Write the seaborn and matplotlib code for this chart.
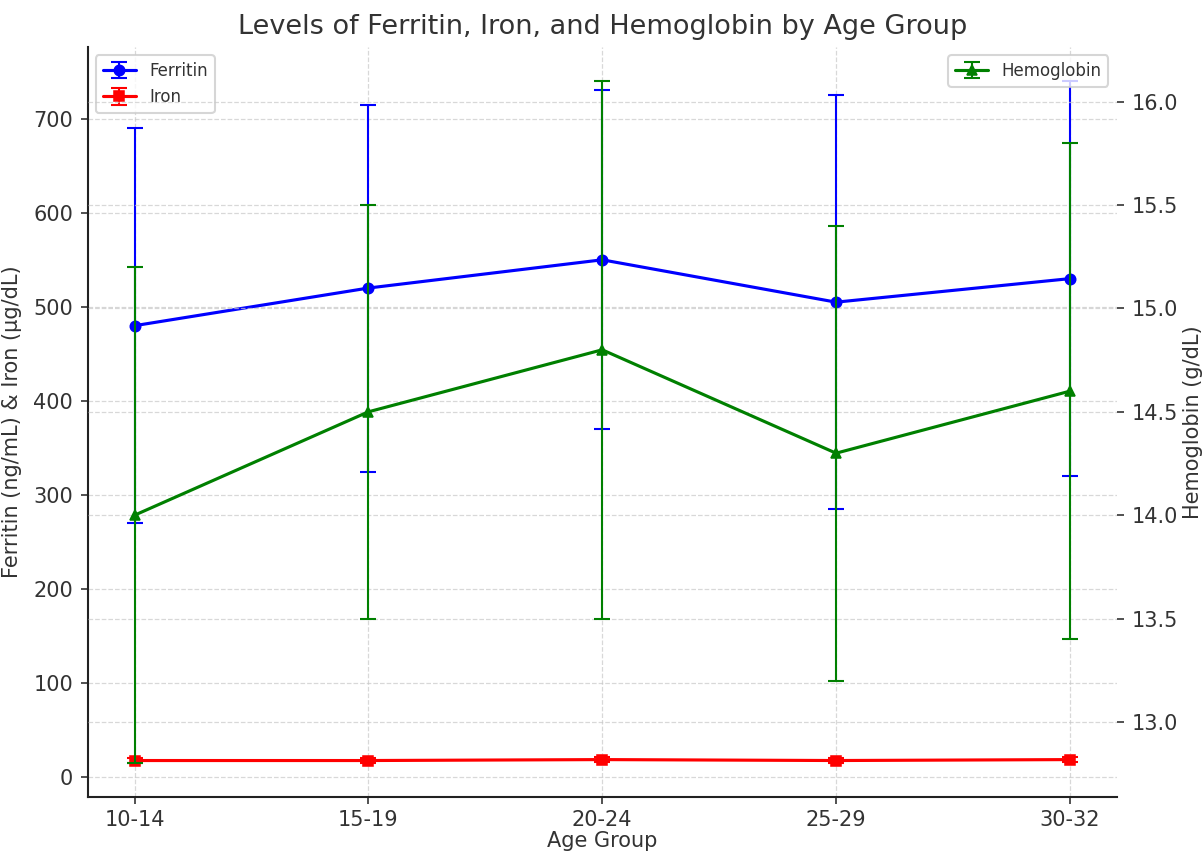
import matplotlib
matplotlib.use("Agg")
import matplotlib.pyplot as plt
import seaborn as sns
import pandas as pd

# values
age_groups = ["10-14", "15-19", "20-24", "25-29", "30-32"]
ferritin = [480, 520, 550, 505, 530]
ferritin_err = [210, 195, 180, 220, 210]
iron = [18, 18, 19, 18, 19]
iron_err = [3, 3, 3, 3, 3]
hemoglobin = [14.0, 14.5, 14.8, 14.3, 14.6]
hemoglobin_err = [1.2, 1.0, 1.3, 1.1, 1.2]

df = pd.DataFrame({"Age Group": age_groups, "Ferritin": ferritin, "Iron": iron,
                   "Hemoglobin": hemoglobin})

sns.set_style("white")
plt.rcParams["font.family"] = ["DejaVu Sans"]
plt.rcParams["text.color"] = "#333333"
plt.rcParams["axes.labelcolor"] = "#333333"
plt.rcParams["xtick.color"] = "#333333"
plt.rcParams["ytick.color"] = "#333333"

fig, ax1 = plt.subplots(figsize=(1202 / 150, 852 / 150), dpi=150)
fig.subplots_adjust(left=0.073, right=0.929, top=0.945, bottom=0.064)

err_kw = dict(fmt="none", elinewidth=1.0, capsize=4, capthick=1.0)

e_fer = ax1.errorbar(df["Age Group"], df["Ferritin"], yerr=ferritin_err, ecolor="blue", **err_kw)
sns.lineplot(data=df, x="Age Group", y="Ferritin", color="blue", marker="o",
             markersize=5, markeredgecolor="blue", linewidth=1.5, ax=ax1, legend=False)
l_fer = ax1.lines[-1]

e_iron = ax1.errorbar(df["Age Group"], df["Iron"], yerr=iron_err, ecolor="red", **err_kw)
sns.lineplot(data=df, x="Age Group", y="Iron", color="red", marker="s",
             markersize=5, markeredgecolor="red", linewidth=1.5, ax=ax1, legend=False)
l_iron = ax1.lines[-1]

ax2 = ax1.twinx()
e_hb = ax2.errorbar(df["Age Group"], df["Hemoglobin"], yerr=hemoglobin_err, ecolor="green", **err_kw)
sns.lineplot(data=df, x="Age Group", y="Hemoglobin", color="green", marker="^",
             markersize=5, markeredgecolor="green", linewidth=1.5, ax=ax2, legend=False)
l_hb = ax2.lines[-1]

ax1.set_title("Levels of Ferritin, Iron, and Hemoglobin by Age Group", fontsize=13)
ax1.set_xlabel("Age Group")
ax1.set_ylabel("Ferritin (ng/mL) & Iron (\u03bcg/dL)")
ax2.set_ylabel("Hemoglobin (g/dL)")
ax1.xaxis.set_label_coords(0.5, -0.045)
ax1.yaxis.set_label_coords(-0.064, 0.5)
ax2.yaxis.set_label_coords(1.064, 0.5)

ax1.grid(True, linestyle="--", color="#c8c8c8", alpha=0.7, linewidth=0.6)
ax2.grid(True, linestyle="--", color="#c8c8c8", alpha=0.7, linewidth=0.6)
ax1.set_axisbelow(True)

for ax in (ax1, ax2):
    ax.tick_params(axis="both", which="both", length=3.5, width=0.8, labelsize=10)
    ax.spines["top"].set_visible(False)
    ax.spines["right"].set_visible(False)
ax2.spines["left"].set_visible(False)
ax2.spines["bottom"].set_visible(False)
ax1.tick_params(axis="x", bottom=True, pad=2.5)
ax1.tick_params(axis="y", left=True)
ax2.tick_params(axis="y", right=True)
for s in ("left", "bottom"):
    ax1.spines[s].set_color("#222222")
    ax1.spines[s].set_linewidth(1.0)

ax1.legend([(l_fer, e_fer), (l_iron, e_iron)], ["Ferritin", "Iron"], loc="upper left", fontsize=8)
ax2.legend([(l_hb, e_hb)], ["Hemoglobin"], loc="upper right", fontsize=8)

fig.savefig("out.png", dpi=150)
